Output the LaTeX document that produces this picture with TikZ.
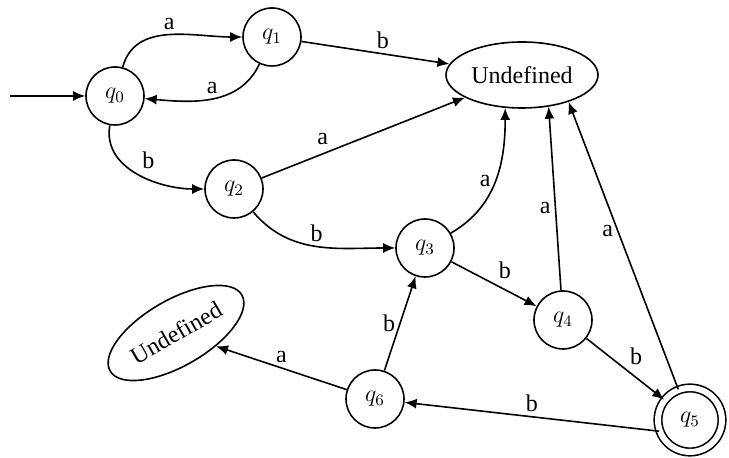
\documentclass[tikz,border=0pt]{standalone}
\usepackage{fontspec}
\setmainfont{Liberation Serif}
\usepackage{tikz}
\usetikzlibrary{shapes.geometric, arrows.meta}
\newcommand{\fsState}{\fontsize{12}{14}\selectfont}
\newcommand{\fsEdge}{\fontsize{12}{14}\selectfont}

\begin{document}
\begin{tikzpicture}[x=0.5pt, y=0.5pt, line width=0.8pt,
  every node/.style={font=\fsEdge},
  state/.style={circle, draw, minimum size=29pt, inner sep=0pt, font=\fsState},
  final/.style={state, minimum size=32pt, double, double distance=3pt},
  undef/.style={ellipse, draw, minimum width=76pt, minimum height=33pt, inner sep=0pt},
  trans/.style={-{Latex[length=6pt, width=5pt]}},
  lbl/.style={font=\fsEdge, inner sep=2pt}]
  \useasboundingbox (0,0) rectangle (729,458);

  % states
  \node[state] (q0) at (115,362) {$q_0$};
  \node[state] (q1) at (272,421) {$q_1$};
  \node[state] (q2) at (234,269) {$q_2$};
  \node[state] (q3) at (425,210) {$q_3$};
  \node[state] (q4) at (563,138) {$q_4$};
  \node[final] (q5) at (690,38) {$q_5$};
  \node[state] (q6) at (375,59) {$q_6$};
  \node[undef] (und1) at (522,383) {Undefined};
  \node[undef, rotate=30] (und2) at (176,125) {Undefined};
  \coordinate (start) at (10,362);

  % transitions
  \draw[trans] (start) -- (q0);
  \draw[trans] (q0) to[out=75, in=180] node[lbl, above] (e01) {a} (q1);
  \draw[trans] (q1) to[out=-115, in=-5] node[lbl, above] (e10) {a} (q0);
  \draw[trans] (q0) to[out=-100, in=180] node[lbl, above right] (e02) {b} (q2);
  \draw[trans] (q1) -- node[lbl, above, pos=0.55] (e1u) {b} (und1);
  \draw[trans] (q2) -- node[lbl, above left, pos=0.35] (e2u) {a} (und1);
  \draw[trans] (q2) to[out=-50, in=180] node[lbl, above] (e23) {b} (q3);
  \draw[trans] (q3) to[out=30, in=-90] node[lbl, left] (e3u) {a} (und1.-117);
  \draw[trans] (q4) -- node[lbl, left, pos=0.45] (e4u) {a} (und1.-50);
  \draw[trans] (q5) -- node[lbl, left, pos=0.55] (e5u) {a} (und1.-30);
  \draw[trans] (q3) -- node[lbl, above right] (e34) {b} (q4);
  \draw[trans] (q4) -- node[lbl, above right] (e45) {b} (q5);
  \draw[trans] (q5.200) -- node[lbl, above] (e56) {b} (q6);
  \draw[trans] (q6) -- node[lbl, left] (e63) {b} (q3);
  \draw[trans] (q6) -- node[lbl, above] (e6u) {a} (und2);
\end{tikzpicture}
\end{document}
